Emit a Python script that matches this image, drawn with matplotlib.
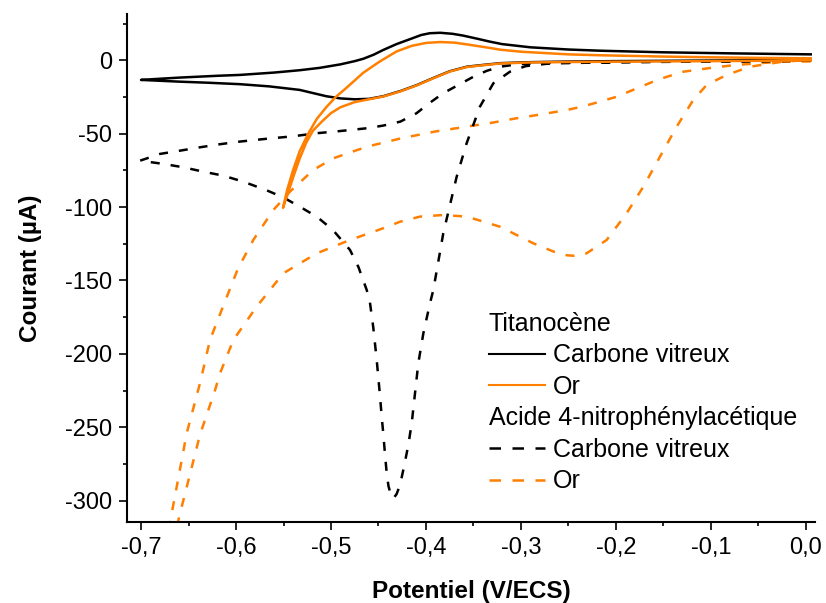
import numpy as np
import matplotlib.pyplot as plt
from matplotlib.lines import Line2D
from matplotlib.ticker import FixedLocator, MultipleLocator

plt.rcParams['font.family'] = ['Liberation Sans', 'DejaVu Sans']

# Titanocene, carbone vitreux: aller (0 -> -0.7 V) puis retour
ti_cv_e = [0.005, -0.05, -0.10, -0.15, -0.20, -0.25, -0.29, -0.322, -0.34, -0.357, -0.375,
           -0.392, -0.41, -0.427, -0.445, -0.46, -0.475, -0.49, -0.505, -0.533, -0.565,
           -0.596, -0.63, -0.659, -0.70,
           -0.68, -0.659, -0.62, -0.596, -0.56, -0.533, -0.512, -0.49, -0.475, -0.466,
           -0.455, -0.445, -0.431, -0.415, -0.405, -0.396, -0.385, -0.372, -0.361, -0.345,
           -0.333, -0.32, -0.29, -0.25, -0.217, -0.15, -0.08, 0.005]
ti_cv_i = [0.3, 0.0, -0.2, -0.4, -0.6, -0.9, -1.3, -2.0, -3.2, -4.4, -7.5,
           -12.0, -17.0, -21.0, -24.5, -26.3, -26.6, -26.0, -24.5, -20.2, -17.8,
           -16.3, -15.3, -14.6, -13.4,
           -12.6, -11.8, -10.6, -10.0, -8.4, -6.8, -5.2, -2.8, -0.6, 1.0,
           3.8, 7.0, 11.0, 14.8, 17.2, 18.4, 18.7, 18.0, 16.8, 14.5,
           12.7, 11.0, 8.8, 7.3, 6.5, 5.4, 4.7, 4.0]

# Titanocene, or: aller (0 -> -0.55 V) puis retour
ti_or_e = [0.005, -0.05, -0.10, -0.15, -0.20, -0.25, -0.29, -0.322, -0.34, -0.357, -0.375,
           -0.392, -0.41, -0.427, -0.445, -0.46, -0.475, -0.49, -0.50, -0.51, -0.519,
           -0.526, -0.533, -0.54, -0.545, -0.5505,
           -0.546, -0.54, -0.533, -0.524, -0.515, -0.505, -0.495, -0.485, -0.466, -0.449,
           -0.431, -0.415, -0.40, -0.385, -0.37, -0.355, -0.333, -0.322, -0.30, -0.25,
           -0.217, -0.15, -0.10, -0.05, 0.005]
ti_or_i = [-0.2, -0.4, -0.6, -0.8, -1.0, -1.2, -1.5, -2.2, -3.4, -4.6, -7.7,
           -12.2, -17.2, -21.2, -24.7, -26.6, -28.5, -32.0, -36.0, -42.0, -48.0,
           -56.0, -67.0, -80.0, -90.0, -100.5,
           -88.0, -75.0, -62.0, -50.0, -40.0, -32.0, -25.0, -19.5, -8.5, -1.0,
           6.0, 9.8, 11.8, 12.4, 12.0, 10.6, 8.4, 7.2, 5.8, 4.0,
           3.4, 2.5, 2.0, 1.6, 1.3]

# Acide 4-nitrophenylacetique, carbone vitreux
ac_cv_e = [0.005, -0.05, -0.10, -0.15, -0.20, -0.25, -0.287, -0.305, -0.322, -0.336, -0.35,
           -0.365, -0.382, -0.396, -0.41, -0.427, -0.445, -0.462, -0.49, -0.515, -0.54,
           -0.568, -0.596, -0.617, -0.638, -0.659, -0.68, -0.701,
           -0.6765, -0.6555, -0.6344, -0.6134, -0.5923, -0.568, -0.55, -0.533, -0.515,
           -0.498, -0.48, -0.471, -0.4624, -0.459, -0.4555, -0.4519, -0.4485, -0.4466,
           -0.445, -0.4432, -0.4414, -0.4395, -0.437, -0.4344, -0.431, -0.4274, -0.4228,
           -0.4186, -0.415, -0.4081, -0.4028, -0.3958, -0.3923, -0.3818, -0.3677, -0.3572,
           -0.3432, -0.3291, -0.3116, -0.295, -0.27, -0.20, -0.10, 0.005]
ac_cv_i = [-0.3, -0.6, -0.9, -1.1, -1.3, -1.6, -2.0, -2.9, -4.4, -7.2, -11.2,
           -16.5, -22.5, -29.0, -36.1, -41.8, -44.5, -46.3, -48.2, -49.7, -51.8,
           -53.5, -55.4, -57.2, -59.3, -61.6, -63.8, -68.4,
           -70.6, -72.9, -75.9, -78.6, -82.7, -88.5, -93.5, -99.7, -106.5,
           -115.6, -129.2, -141.0, -156.5, -165.0, -182.0, -204.0, -228.0, -243.0,
           -254.0, -268.0, -281.0, -290.0, -296.0, -298.5, -295.5, -289.5, -275.7,
           -262.0, -247.0, -206.4, -186.0, -165.5, -156.5, -117.8, -79.3, -56.5,
           -31.6, -15.7, -7.8, -4.0, -2.2, -1.3, -0.8, -0.3]

# Acide 4-nitrophenylacetique, or
ac_or_e = [0.005, -0.024, -0.05, -0.0765, -0.10, -0.129, -0.155, -0.182, -0.20, -0.217,
           -0.235, -0.252, -0.28, -0.3045, -0.33, -0.357, -0.39, -0.427, -0.4624, -0.4976,
           -0.5186, -0.5432, -0.5607, -0.5818, -0.598, -0.611, -0.6274, -0.6379, -0.6519,
           -0.6624, -0.6695, -0.70,
           -0.6589, -0.6379, -0.6221, -0.6168, -0.6028, -0.5782, -0.5502, -0.515, -0.48,
           -0.4449, -0.4274, -0.4063, -0.3818, -0.357, -0.322, -0.287, -0.265, -0.252,
           -0.242, -0.231, -0.2098, -0.1888, -0.1712, -0.1537, -0.1361, -0.1186, -0.1045,
           -0.0835, -0.0589, -0.0239, 0.005]
ac_or_i = [-0.8, -1.0, -2.0, -3.4, -5.2, -7.8, -13.0, -20.2, -25.0, -28.2,
           -31.5, -33.9, -37.0, -39.5, -42.5, -45.2, -48.5, -53.3, -58.9, -66.8,
           -74.7, -89.5, -102.0, -122.4, -142.0, -163.3, -190.5, -220.0, -254.0,
           -290.5, -314.7, -420.0,
           -308.6, -255.0, -224.8, -213.2, -190.5, -167.8, -145.1, -131.5, -122.4,
           -114.4, -110.0, -106.5, -105.4, -106.5, -113.4, -124.7, -130.5, -132.8,
           -133.3, -131.5, -122.4, -104.2, -86.1, -65.7, -45.2, -27.0, -16.8,
           -10.0, -4.4, -0.9, 0.2]

xticks = [-0.7, -0.6, -0.5, -0.4, -0.3, -0.2, -0.1, 0.0]
xtick_labels = ['-0,7', '-0,6', '-0,5', '-0,4', '-0,3', '-0,2', '-0,1', '0,0']
yticks = [-300, -250, -200, -150, -100, -50, 0]
ytick_labels = ['-300', '-250', '-200', '-150', '-100', '-50', '0']

labels = ['Titanocène', 'Carbone vitreux', 'Or',
          'Acide 4-nitrophénylacétique', 'Carbone vitreux', 'Or']

orange = '#ff7f00'
lw = 1.8
dash = (3.6, 4.4)
leg_dash = (4.6, 4.6)

fig = plt.figure(figsize=(8.26, 6.03), dpi=100)
ax = fig.add_axes([0.1538, 0.1338, 0.8329, 0.843])

ax.plot(ac_or_e, ac_or_i, color=orange, lw=lw, dashes=dash)
ax.plot(ac_cv_e, ac_cv_i, color='black', lw=lw, dashes=dash)
ax.plot(ti_cv_e, ti_cv_i, color='black', lw=lw)
ax.plot(ti_or_e, ti_or_i, color=orange, lw=lw)

ax.set_xlim(-0.7147, 0.0095)
ax.set_ylim(-314.7, 31.5)

ax.xaxis.set_major_locator(FixedLocator(xticks))
ax.set_xticklabels(xtick_labels)
ax.yaxis.set_major_locator(FixedLocator(yticks))
ax.set_yticklabels(ytick_labels)
ax.xaxis.set_minor_locator(MultipleLocator(0.05))
ax.yaxis.set_minor_locator(MultipleLocator(25))

for side in ['top', 'right']:
    ax.spines[side].set_visible(False)
for side in ['left', 'bottom']:
    ax.spines[side].set_linewidth(1.5)

ax.tick_params(which='major', direction='out', length=5.5, width=1.2, labelsize=17, pad=5)
ax.tick_params(which='minor', direction='out', length=3, width=1.2)

ax.set_xlabel('Potentiel (V/ECS)', fontsize=17.5, fontweight='bold', labelpad=15)
ax.set_ylabel('Courant (µA)', fontsize=17.5, fontweight='bold', labelpad=17)

# legend: two group headers with invisible handles
blank = Line2D([], [], linestyle='none')
handles = [blank,
           Line2D([], [], color='black', lw=1.5),
           Line2D([], [], color=orange, lw=1.5),
           blank,
           Line2D([], [], color='black', lw=lw, dashes=leg_dash),
           Line2D([], [], color=orange, lw=lw, dashes=leg_dash)]
leg = ax.legend(handles, labels, loc='upper left', bbox_to_anchor=(0.526, 0.414),
                frameon=False, fontsize=18, handlelength=2.24, handletextpad=0.32,
                labelspacing=0.30, borderpad=0, borderaxespad=0)
shift = (leg.handlelength + leg.handletextpad) * leg._fontsize * fig.dpi / 72
for k in (0, 3):
    leg.get_texts()[k].set_x(-shift)

fig.savefig('out.png', dpi=100)
